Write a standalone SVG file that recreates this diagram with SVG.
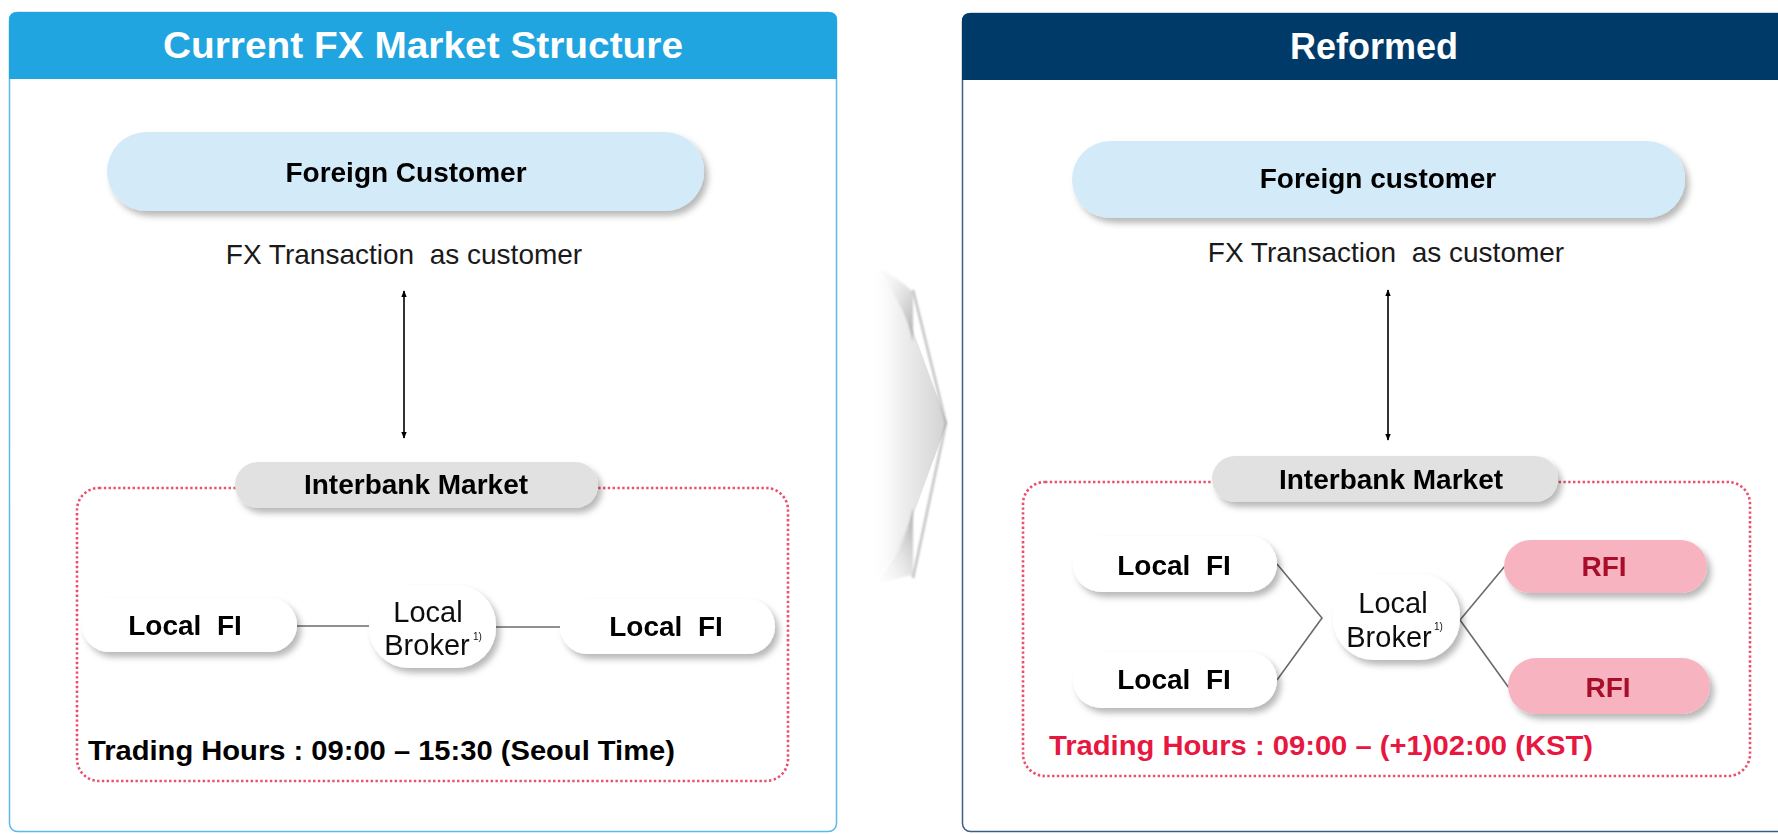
<svg xmlns="http://www.w3.org/2000/svg" width="1778" height="834" viewBox="0 0 1778 834">
<style>
text{font-family:"Liberation Sans",Arial,sans-serif}
.b{font-weight:bold}
.hdr{font-size:36px;font-weight:bold;fill:#fff;text-anchor:middle}
.t28{font-size:28px;font-weight:bold;fill:#000;text-anchor:middle}
.reg{font-size:28px;fill:#1a1a1a;text-anchor:middle}
.brk{font-size:29px;fill:#111;text-anchor:middle}
.sup{font-size:10px;fill:#111}
.dot{fill:none;stroke:#e8506e;stroke-width:2.6;stroke-dasharray:2.4 2.4}
.line{stroke:#6b6b6b;stroke-width:1.6;fill:none}
.arr{stroke:#000;stroke-width:1.6;fill:none}
.rfi{font-size:28px;font-weight:bold;fill:#a8102a;text-anchor:middle}
</style>
<defs>
<filter id="sh" x="-20%" y="-30%" width="140%" height="170%">
<feDropShadow dx="4" dy="5" stdDeviation="3" flood-color="#000" flood-opacity="0.28"/>
</filter>
<filter id="soft" x="-20%" y="-10%" width="140%" height="120%">
<feGaussianBlur stdDeviation="1"/>
</filter>
<marker id="ah" viewBox="0 0 10 10" refX="9" refY="5" markerWidth="7" markerHeight="7" orient="auto-start-reverse" markerUnits="userSpaceOnUse">
<path d="M0,1 L10,5 L0,9 Z" fill="#000"/>
</marker>
<linearGradient id="chev" x1="0" y1="0" x2="1" y2="0">
<stop offset="0" stop-color="#ffffff" stop-opacity="0"/>
<stop offset="0.4" stop-color="#f0f0f0"/>
<stop offset="1" stop-color="#d2d2d2"/>
</linearGradient>
<linearGradient id="wingT" x1="0" y1="0" x2="1" y2="1">
<stop offset="0" stop-color="#ffffff" stop-opacity="0"/>
<stop offset="1" stop-color="#a8a8a8"/>
</linearGradient>
<linearGradient id="wingB" x1="0" y1="1" x2="1" y2="0">
<stop offset="0" stop-color="#ffffff" stop-opacity="0"/>
<stop offset="1" stop-color="#a8a8a8"/>
</linearGradient>
</defs>

<rect width="1778" height="834" fill="#fff"/>

<!-- Left panel -->
<g id="panel-current">
<rect x="9.5" y="12.5" width="827" height="819" rx="8" fill="#fff" stroke="#5db9e8" stroke-width="1.5"/>
<path d="M9,79 V20 Q9,12 17,12 H829 Q837,12 837,20 V79 Z" fill="#20a5e0"/>
<text class="hdr" x="423" y="58" textLength="520" lengthAdjust="spacingAndGlyphs">Current FX Market Structure</text>
</g>

<!-- Right panel -->
<g id="panel-reformed">
<rect x="962.5" y="13.5" width="830" height="818" rx="8" fill="#fff" stroke="#3c5f86" stroke-width="1.5"/>
<path d="M962,80 V21 Q962,13 970,13 H1790 V80 Z" fill="#003a69"/>
<text class="hdr" x="1374" y="59" font-size="37">Reformed</text>
</g>

<!-- Center chevron -->
<g id="chevron">
<path d="M868,263 Q902,295 913,330 L947,423 L913,516 Q902,552 868,587 Z" fill="url(#chev)"/>
<path d="M871,263 Q904,298 913,342 L913,292 Q895,275 871,263 Z" fill="url(#wingT)" filter="url(#soft)"/>
<path d="M871,587 Q904,552 913,508 L913,575 Q895,578 871,587 Z" fill="url(#wingB)" filter="url(#soft)"/>
<path d="M913,290 L946,423 L913,578" fill="none" stroke="#a9a9a9" stroke-width="2.2" opacity="0.8" filter="url(#soft)"/>
</g>

<!-- Dotted interbank boxes -->
<g id="interbank-areas">
<rect class="dot" x="77" y="488" width="711" height="293" rx="22"/>
<rect class="dot" x="1023" y="482" width="727" height="294" rx="22"/>
</g>

<!-- Connectors -->
<g id="connectors">
<line class="arr" x1="404" y1="291" x2="404" y2="438" marker-start="url(#ah)" marker-end="url(#ah)"/>
<line class="arr" x1="1388" y1="290" x2="1388" y2="440" marker-start="url(#ah)" marker-end="url(#ah)"/>
<line class="line" x1="297" y1="626" x2="371" y2="626"/>
<line class="line" x1="495" y1="627" x2="560" y2="627"/>
<polyline class="line" points="1277,564 1322,618 1277,680"/>
<polyline class="line" points="1505,566 1460,620 1509,688"/>
</g>

<!-- Left nodes -->
<g id="foreign-customer-left" filter="url(#sh)">
<rect x="107" y="132" width="597" height="79" rx="39.5" fill="#d3eaf8"/>
<text class="t28" x="406" y="182">Foreign Customer</text>
</g>
<g id="fx-label-left">
<text class="reg" x="404" y="264" xml:space="preserve">FX Transaction  as customer</text>
</g>
<g id="interbank-left" filter="url(#sh)">
<rect x="235" y="462" width="363" height="46" rx="23" fill="#e1e1e1"/>
<text class="t28" x="416" y="494">Interbank Market</text>
</g>
<g id="localfi-left-1" filter="url(#sh)">
<rect x="82" y="598" width="215" height="54" rx="27" fill="#fff"/>
<text class="t28" x="185" y="635" xml:space="preserve">Local  FI</text>
</g>
<g id="broker-left" filter="url(#sh)">
<rect x="369" y="585" width="127" height="83" rx="40" fill="#fff"/>
<text class="brk" x="428" y="622">Local</text>
<text class="brk" x="427" y="655">Broker</text>
<text class="sup" x="473" y="640">1)</text>
</g>
<g id="localfi-left-2" filter="url(#sh)">
<rect x="560" y="599" width="215" height="55" rx="27.5" fill="#fff"/>
<text class="t28" x="666" y="636" xml:space="preserve">Local  FI</text>
</g>
<g id="hours-left">
<text class="b" x="88" y="760" font-size="27" fill="#000" textLength="587" lengthAdjust="spacingAndGlyphs">Trading Hours : 09:00 – 15:30 (Seoul Time)</text>
</g>

<!-- Right nodes -->
<g id="foreign-customer-right" filter="url(#sh)">
<rect x="1072" y="141" width="613" height="77" rx="38.5" fill="#d3eaf8"/>
<text class="t28" x="1378" y="188">Foreign customer</text>
</g>
<g id="fx-label-right">
<text class="reg" x="1386" y="262" xml:space="preserve">FX Transaction  as customer</text>
</g>
<g id="interbank-right" filter="url(#sh)">
<rect x="1212" y="456" width="346" height="46" rx="23" fill="#e1e1e1"/>
<text class="t28" x="1391" y="489">Interbank Market</text>
</g>
<g id="localfi-right-1" filter="url(#sh)">
<rect x="1073" y="536" width="204" height="56" rx="28" fill="#fff"/>
<text class="t28" x="1174" y="575" xml:space="preserve">Local  FI</text>
</g>
<g id="localfi-right-2" filter="url(#sh)">
<rect x="1073" y="652" width="204" height="56" rx="28" fill="#fff"/>
<text class="t28" x="1174" y="689" xml:space="preserve">Local  FI</text>
</g>
<g id="broker-right" filter="url(#sh)">
<rect x="1333" y="574" width="127" height="86" rx="41" fill="#fff"/>
<text class="brk" x="1393" y="613">Local</text>
<text class="brk" x="1389" y="647">Broker</text>
<text class="sup" x="1434" y="630">1)</text>
</g>
<g id="rfi-1" filter="url(#sh)">
<rect x="1504" y="540" width="203" height="53" rx="26.5" fill="#f7b4c0"/>
<text class="rfi" x="1604" y="576">RFI</text>
</g>
<g id="rfi-2" filter="url(#sh)">
<rect x="1508" y="658" width="202" height="56" rx="28" fill="#f7b4c0"/>
<text class="rfi" x="1608" y="697">RFI</text>
</g>
<g id="hours-right">
<text class="b" x="1049" y="755" font-size="27" fill="#e8173f" textLength="544" lengthAdjust="spacingAndGlyphs">Trading Hours : 09:00 – (+1)02:00 (KST)</text>
</g>
</svg>
